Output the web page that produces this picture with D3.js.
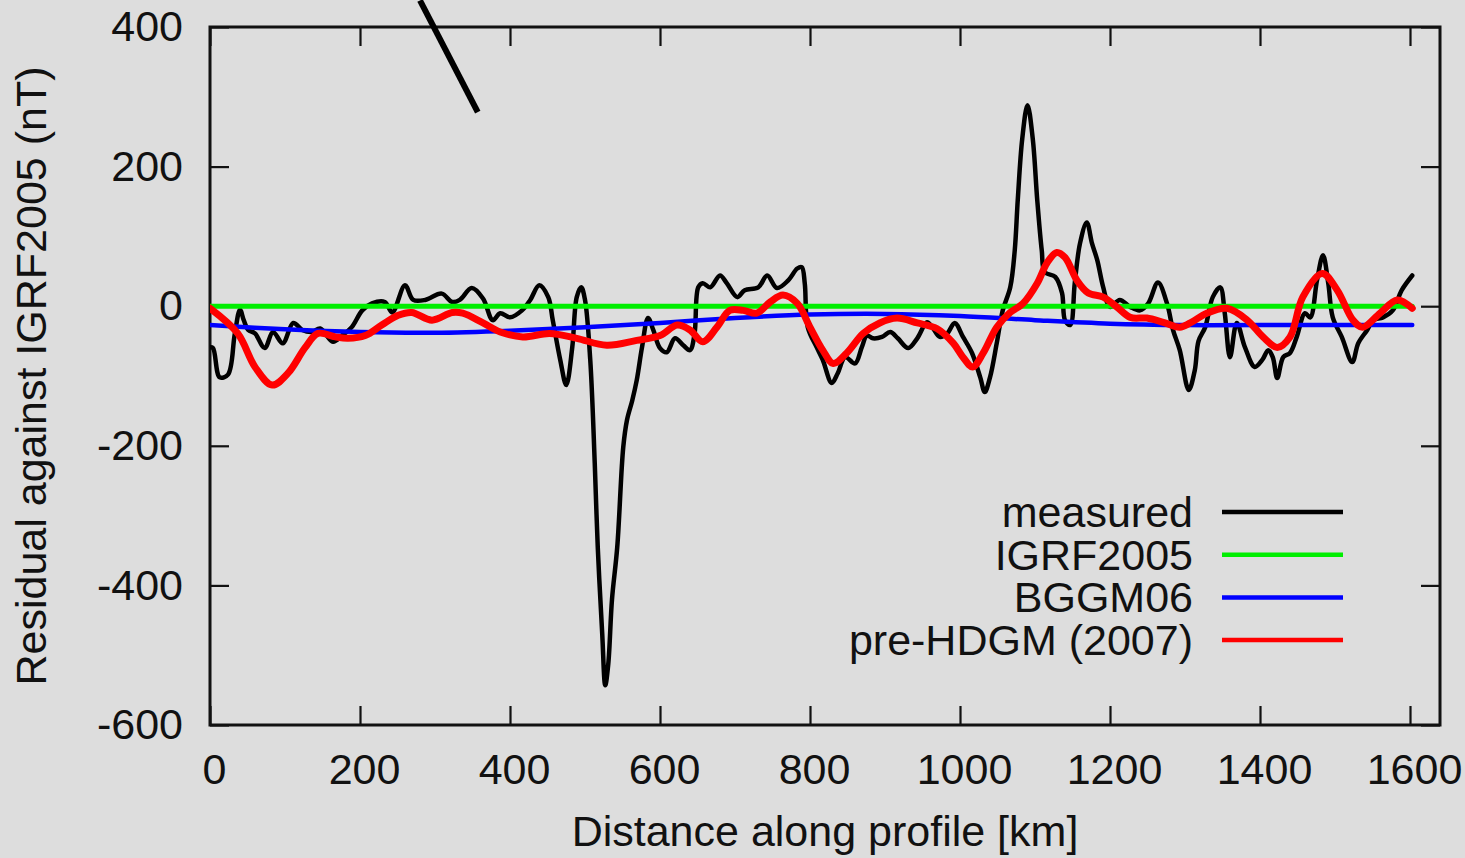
<!DOCTYPE html>
<html>
<head>
<meta charset="utf-8">
<script src="https://cdn.jsdelivr.net/npm/d3@7"></script>
<style>
  html, body { margin: 0; padding: 0; background: #dddddd; }
  svg { display: block; }
  text { font-family: "Liberation Sans", Arial, Helvetica, sans-serif; fill: #111; }
</style>
</head>
<body>
<svg id="chart" width="1465" height="858"></svg>
<script>
// ---------------- data ----------------
const xTicks = [0, 200, 400, 600, 800, 1000, 1200, 1400, 1600];
const yTicks = [-600, -400, -200, 0, 200, 400];
const seriesNames = ["measured", "IGRF2005", "BGGM06", "pre-HDGM (2007)"];
const seriesColors = ["#000000", "#00ee00", "#0000ff", "#ff0000"];

// measured residual [distance km, nT]
const measured = [
  [0,-59],[4,-60],[13,-102],[24,-98],[33,-40],[40,-5],[45,-20],[51,-34],[60,-39],[73,-60],
  [84,-37],[97,-53],[111,-24],[123,-34],[136,-37],[147,-32],[164,-51],[176,-42],[189,-30],
  [203,-6],[216,4],[233,6],[243,-9],[260,30],[271,9],[287,9],[309,18],[323,6],[333,9],
  [349,26],[364,11],[377,-20],[387,-10],[400,-16],[416,-6],[427,9],[439,30],[451,13],
  [457,-20],[467,-77],[475,-113],[483,-59],[489,13],[495,27],[500,9],[507,-77],[513,-225],
  [517,-345],[523,-470],[527,-543],[531,-513],[536,-420],[543,-345],[551,-202],[556,-163],
  [563,-135],[569,-106],[576,-59],[584,-17],[591,-34],[600,-60],[609,-66],[620,-46],
  [631,-56],[640,-63],[646,-40],[651,27],[657,33],[667,27],[680,44],[689,33],[703,13],
  [713,23],[731,27],[743,44],[756,26],[771,37],[783,54],[789,56],[793,33],[797,-30],
  [809,-59],[817,-77],[829,-110],[837,-96],[847,-73],[860,-82],[869,-59],[876,-42],
  [884,-46],[896,-44],[907,-37],[917,-46],[931,-60],[943,-46],[956,-23],[963,-30],
  [973,-44],[983,-39],[993,-24],[1004,-44],[1016,-67],[1027,-102],[1033,-123],[1040,-102],
  [1049,-53],[1057,-6],[1067,27],[1073,80],[1077,152],[1083,240],[1090,288],[1097,240],
  [1103,152],[1109,80],[1113,49],[1127,42],[1136,19],[1140,-20],[1147,-27],[1153,33],
  [1160,90],[1169,120],[1176,90],[1183,66],[1191,27],[1200,-1],[1213,9],[1227,-1],
  [1240,-6],[1251,4],[1264,34],[1276,4],[1284,-34],[1293,-63],[1305,-120],[1313,-92],
  [1318,-50],[1327,-30],[1337,13],[1347,27],[1353,-10],[1360,-73],[1369,-24],[1380,-59],
  [1393,-87],[1403,-77],[1411,-63],[1417,-73],[1423,-103],[1431,-73],[1440,-67],[1449,-44],
  [1460,-10],[1467,-16],[1476,37],[1484,73],[1491,33],[1497,-16],[1509,-44],[1523,-80],
  [1531,-53],[1543,-34],[1551,-20],[1564,-16],[1577,-6],[1589,23],[1603,44]
];

// IGRF2005 residual against itself
const igrf2005 = [[0,0],[1603,0]];

// BGGM06 residual
const bggm06 = [
  [0,-27],[100,-33],[200,-37],[300,-38],[400,-35],[500,-30],[600,-24],[700,-17],
  [800,-12],[900,-11],[1000,-14],[1100,-20],[1200,-25],[1300,-27],[1400,-27],[1603,-27]
];

// pre-HDGM (2007) residual
const preHDGM = [
  [0,-3],[37,-39],[60,-87],[83,-113],[104,-96],[127,-59],[144,-39],[167,-44],[184,-46],
  [207,-42],[229,-27],[251,-13],[269,-9],[296,-20],[323,-9],[337,-10],[364,-24],[387,-37],
  [417,-44],[453,-39],[489,-46],[529,-56],[569,-49],[600,-42],[623,-27],[640,-34],
  [657,-51],[676,-30],[693,-6],[711,-6],[729,-10],[747,6],[764,16],[783,4],[800,-30],
  [817,-63],[831,-82],[849,-67],[871,-39],[893,-24],[916,-17],[943,-24],[969,-32],
  [991,-53],[1004,-73],[1017,-87],[1031,-67],[1049,-30],[1067,-9],[1084,4],[1103,33],
  [1116,62],[1129,77],[1140,70],[1156,37],[1171,19],[1191,13],[1209,-1],[1227,-16],
  [1249,-17],[1271,-23],[1293,-30],[1307,-24],[1329,-10],[1356,-3],[1383,-20],[1404,-44],
  [1423,-59],[1440,-44],[1457,13],[1483,47],[1503,23],[1524,-20],[1537,-30],[1560,-10],
  [1583,9],[1603,-3]
];

// stray annotation stroke at top of figure (data coordinates)
const annotationLine = [[280,438],[357,278]];

// ---------------- layout ----------------
const svg = d3.select("#chart");
const W = 1465, H = 858;
const plot = {left: 210, right: 1440, top: 27, bottom: 725};

const x = d3.scaleLinear().domain([0, 1640]).range([plot.left, plot.right]);
const y = d3.scaleLinear().domain([-600, 400]).range([plot.bottom, plot.top]);

svg.append("rect").attr("width", W).attr("height", H).attr("fill", "#dddddd");

svg.append("defs").append("clipPath").attr("id", "clip")
  .append("rect").attr("x", plot.left).attr("y", plot.top)
  .attr("width", plot.right - plot.left).attr("height", plot.bottom - plot.top);

// axes (ticks inward, mirrored)
const tickLen = 19;
const fontSize = 43;
const fmt = d => String(d);
const axisG = svg.append("g");

const bottomAxis = d3.axisBottom(x).tickValues(xTicks).tickSize(-tickLen).tickPadding(28).tickFormat(fmt);
const gB = axisG.append("g").attr("transform", `translate(0,${plot.bottom})`).call(bottomAxis);
const topAxis = d3.axisTop(x).tickValues(xTicks).tickSize(-tickLen).tickFormat("");
const gT = axisG.append("g").attr("transform", `translate(0,${plot.top})`).call(topAxis);
const leftAxis = d3.axisLeft(y).tickValues(yTicks).tickSize(-tickLen).tickPadding(27).tickFormat(fmt);
const gL = axisG.append("g").attr("transform", `translate(${plot.left},0)`).call(leftAxis);
const rightAxis = d3.axisRight(y).tickValues(yTicks).tickSize(-tickLen).tickFormat("");
const gR = axisG.append("g").attr("transform", `translate(${plot.right},0)`).call(rightAxis);

[gB, gT, gL, gR].forEach(g => {
  g.select(".domain").remove();
  g.selectAll(".tick line").attr("stroke", "#111").attr("stroke-width", 2.2);
  g.selectAll("text").attr("font-size", fontSize)
    .attr("font-family", '"Liberation Sans", Arial, sans-serif').attr("fill", "#111");
});
gB.selectAll("text").attr("dy", "0.72em").attr("dx", 4);

// frame
svg.append("rect").attr("x", plot.left).attr("y", plot.top)
  .attr("width", plot.right - plot.left).attr("height", plot.bottom - plot.top)
  .attr("fill", "none").attr("stroke", "#111").attr("stroke-width", 3);

// series
const lineGen = d3.line().x(d => x(d[0])).y(d => y(d[1])).curve(d3.curveCatmullRom.alpha(0.5));
const seriesData = [measured, igrf2005, bggm06, preHDGM];
const seriesWidths = [4.5, 5, 4.5, 7];
const dataG = svg.append("g").attr("clip-path", "url(#clip)");
seriesData.forEach((data, i) => {
  dataG.append("path").datum(data)
    .attr("d", lineGen)
    .attr("fill", "none")
    .attr("stroke", seriesColors[i])
    .attr("stroke-width", seriesWidths[i])
    .attr("stroke-linejoin", "round")
    .attr("stroke-linecap", "round");
});

// annotation stroke
svg.append("path").datum(annotationLine)
  .attr("d", d3.line().x(d => x(d[0])).y(d => y(d[1])))
  .attr("stroke", "#000").attr("stroke-width", 6).attr("fill", "none");

// legend
const legend = svg.append("g");
const legTextX = 1193, legLineX1 = 1222, legLineX2 = 1343, legY0 = 512, legDy = 42.7;
seriesNames.forEach((name, i) => {
  const yy = legY0 + i * legDy;
  legend.append("text").attr("x", legTextX).attr("y", yy)
    .attr("text-anchor", "end").attr("dominant-baseline", "central")
    .attr("font-size", fontSize).text(name);
  legend.append("line").attr("x1", legLineX1).attr("x2", legLineX2)
    .attr("y1", yy).attr("y2", yy)
    .attr("stroke", seriesColors[i]).attr("stroke-width", 4.5);
});

// axis titles
svg.append("text").attr("x", (plot.left + plot.right) / 2).attr("y", 846)
  .attr("text-anchor", "middle").attr("font-size", fontSize)
  .text("Distance along profile [km]");
svg.append("text")
  .attr("transform", `translate(46,${(plot.top + plot.bottom) / 2}) rotate(-90)`)
  .attr("text-anchor", "middle").attr("font-size", fontSize)
  .text("Residual against IGRF2005 (nT)");
</script>
</body>
</html>
